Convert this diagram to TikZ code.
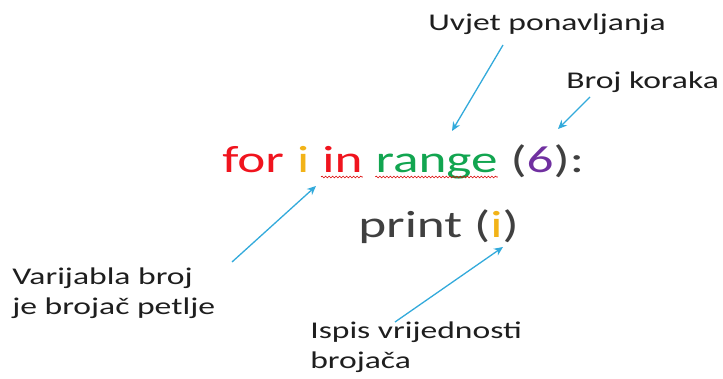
\documentclass[tikz,border=0pt]{standalone}
\usepackage{fontspec}
\setmainfont{Carlito}
\usetikzlibrary{calc,arrows.meta,decorations.pathmorphing}
\definecolor{kred}{HTML}{F0141E}
\definecolor{kyel}{HTML}{F2B318}
\definecolor{kgrn}{HTML}{12A550}
\definecolor{kpur}{HTML}{7030A0}
\definecolor{kgry}{HTML}{404040}
\definecolor{karr}{HTML}{33AADB}
\definecolor{ktxt}{HTML}{1E1E1E}
\tikzset{
  code/.style={inner sep=0pt, anchor=base west, xscale=1.4, font=\fontsize{38}{40}\selectfont},
  lbl/.style={inner sep=0pt, anchor=base west, xscale=1.4, text=ktxt, font=\fontsize{24}{30}\selectfont},
  arr/.style={draw=karr, line width=1.3pt, -{Stealth[length=9pt,width=8pt]}},
  squig/.style={draw=red!85!black, line width=0.6pt, decorate, decoration={snake, amplitude=0.9pt, segment length=3.5pt}}
}
\begin{document}
\begin{tikzpicture}[x=1pt,y=-1pt]
\useasboundingbox (0,0) rectangle (723,378);
% code line 1
\node[code, text=kred] (for) at (222,172) {for};
\node[code, text=kyel] (ivar) at ($(for.base east)+(12.5,0)$) {i};
\node[code, text=kred] (in) at ($(ivar.base east)+(12.5,0)$) {in};
\node[code, text=kgrn] (range) at ($(in.base east)+(12.5,0)$) {range};
\node[code, text=kgry] (args) at ($(range.base east)+(12.5,0)$) {(\textcolor{kpur}{6}):};
% code line 2
\node[code, text=kgry] (print) at (358,237) {print (\textcolor{kyel}{i})};
% squiggles
\draw[squig] ($(in.base west)+(-1,5)$) -- ($(in.base east)+(0,5)$);
\draw[squig] ($(range.base west)+(0,5)$) -- ($(range.base east)+(0,5)$);
% labels
\node[lbl] (uvjet) at (428,30) {Uvjet ponavljanja};
\node[lbl] (broj) at (566,88) {Broj koraka};
\node[lbl] (var) at (12,284) {Varijabla broj};
\node[lbl] (var2) at ($(var.base west)+(0,30)$) {je brojač petlje};
\node[lbl] (ispis) at (310,338) {Ispis vrijednosti};
\node[lbl] (ispis2) at ($(ispis.base west)+(0,30)$) {brojača};
% arrow ends
\coordinate (t1) at (452,131);
\coordinate (t2) at (558,129);
\coordinate (t3) at (316,186);
\coordinate (t4) at (503,247);
\coordinate (s1) at (503,45);
\coordinate (s2) at (590,97);
\coordinate (s3) at (232,262);
\coordinate (s4) at (395,322);
\draw[arr] (s1) -- (t1);
\draw[arr] (s2) -- (t2);
\draw[arr] (s3) -- (t3);
\draw[arr] (s4) -- (t4);
\end{tikzpicture}
\end{document}
